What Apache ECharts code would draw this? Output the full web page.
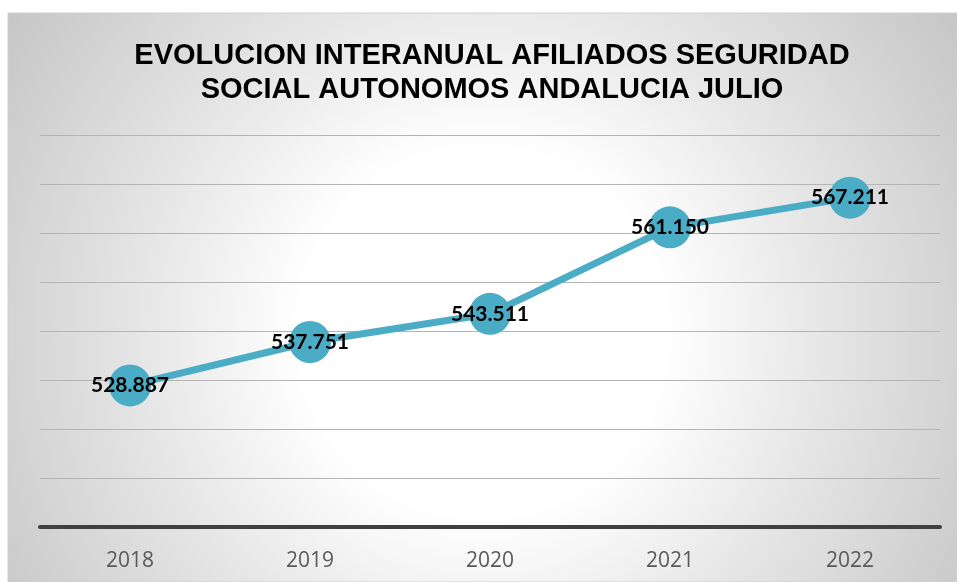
<!DOCTYPE html>
<html>
<head>
<meta charset="utf-8">
<script src="https://cdn.jsdelivr.net/npm/echarts@6/dist/echarts.min.js"></script>
<style>
  html, body { margin: 0; padding: 0; background: #fff; }
  #main { width: 957px; height: 582px; }
</style>
</head>
<body>
<div id="main"></div>
<script>
var years = ['2018', '2019', '2020', '2021', '2022'];
var afiliados = [528887, 537751, 543511, 561150, 567211];

function puntos(v) {
    return String(v).replace(/\B(?=(\d{3})+(?!\d))/g, '.');
}

var chart = echarts.init(document.getElementById('main'));
var option = {
    backgroundColor: '#fff',
    animation: false,
    graphic: [{
        type: 'rect',
        z: -10,
        shape: { x: 8, y: 13, width: 949, height: 569 },
        style: {
            fill: new echarts.graphic.RadialGradient(0.5, 0.56, 1.0, [
                { offset: 0, color: '#ffffff' },
                { offset: 0.32, color: '#ffffff' },
                { offset: 0.6, color: '#e6e6e6' },
                { offset: 1, color: '#c6c6c6' }
            ], false),
            stroke: '#d0d0d0',
            lineWidth: 1
        }
    }],
    title: {
        text: 'EVOLUCION INTERANUAL AFILIADOS SEGURIDAD\nSOCIAL AUTONOMOS ANDALUCIA JULIO',
        left: 487,
        top: 34,
        textAlign: 'center',
        textStyle: {
            fontFamily: 'Liberation Sans',
            fontWeight: 'bold',
            fontSize: 29,
            lineHeight: 34,
            color: '#000'
        }
    },
    grid: { left: 40, right: 17, top: 135, bottom: 55 },
    xAxis: {
        type: 'category',
        data: years,
        boundaryGap: true,
        axisLine: { lineStyle: { color: '#404040', width: 4 } },
        axisTick: { show: false },
        axisLabel: {
            margin: 24,
            fontFamily: 'Open Sans',
            fontSize: 21,
            color: '#595959'
        }
    },
    yAxis: {
        type: 'value',
        min: 500000,
        max: 580000,
        interval: 10000,
        axisLabel: { show: false },
        axisLine: { show: false },
        axisTick: { show: false },
        splitLine: { lineStyle: { color: '#b4b4b4', width: 1 } }
    },
    series: [{
        type: 'line',
        data: afiliados,
        symbol: 'circle',
        symbolSize: 42,
        lineStyle: { color: '#4BACC6', width: 7 },
        itemStyle: { color: '#4BACC6' },
        label: {
            show: true,
            position: 'inside',
            formatter: function (p) { return puntos(p.value); },
            fontFamily: 'Lato',
            fontWeight: 'bold',
            fontSize: 21,
            color: '#000'
        }
    }]
};
chart.setOption(option);
</script>
</body>
</html>
